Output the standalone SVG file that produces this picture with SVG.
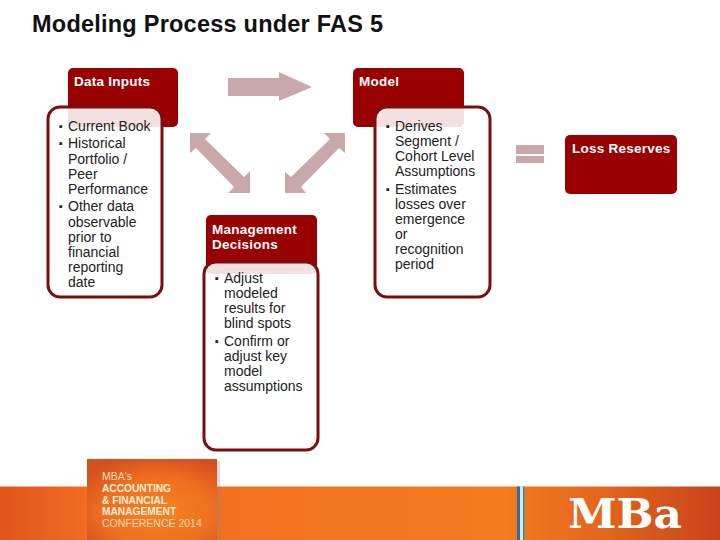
<svg xmlns="http://www.w3.org/2000/svg" width="720" height="540" viewBox="0 0 720 540">
<style>
text{font-family:"Liberation Sans",Arial,sans-serif}
.t{font-size:23.5px;font-weight:bold;fill:#111}
.h{font-size:13.5px;font-weight:bold;fill:#fff;letter-spacing:.25px}
.b{font-size:14px;fill:#222}
.u{font-size:11px}
.hd{fill:#990000}
.bd{fill:#fff;fill-opacity:.88;stroke:#7b0f10;stroke-width:3}
.ar{fill:#c9a8ab}
.c{font-size:10.5px;fill:#f8d9b8}
.cb{font-size:10.2px;font-weight:bold;fill:#fdeeda}
</style>
<defs>
<linearGradient id="band" x1="0" x2="1" y1="0" y2="0"><stop offset="0" stop-color="#e2551c"/><stop offset=".12" stop-color="#ef6c20"/><stop offset=".7" stop-color="#f47b20"/><stop offset=".85" stop-color="#e0641c"/><stop offset="1" stop-color="#c9431a"/></linearGradient>
<radialGradient id="card" cx=".55" cy=".65" r=".7"><stop offset="0" stop-color="#f58220"/><stop offset=".6" stop-color="#ee7020"/><stop offset="1" stop-color="#d5501f"/></radialGradient>
</defs>
<rect width="720" height="540" fill="#fff"/>
<text class="t" x="32" y="31.500" textLength="351">Modeling Process under FAS 5</text>
<g id="band-footer">
<rect y="486.500" width="720" height="53.500" fill="url(#band)"/>
<rect x="517" y="486.500" width="3" height="53.500" fill="#2f6f90"/>
<rect x="520" y="486.500" width="3" height="53.500" fill="#cfe8f2"/>
<rect x="523" y="486.500" width="1.500" height="53.500" fill="#3d87a6"/>
<rect x="217" y="461" width="3" height="79" fill="#888" opacity=".3"/>
<rect x="87" y="459" width="130" height="81" fill="url(#card)"/>
<text class="c" x="102" y="480">MBA's</text>
<text class="cb" x="102" y="492">ACCOUNTING</text>
<text class="cb" x="102" y="503.500">&amp; FINANCIAL</text>
<text class="cb" x="102" y="515">MANAGEMENT</text>
<text class="c" x="102" y="527">CONFERENCE 2014</text>
<text x="568" y="528" font-size="41" font-weight="bold" fill="#fff" textLength="114" lengthAdjust="spacingAndGlyphs" style="font-family:'DejaVu Serif',serif">MBa</text>
</g>
<g id="connectors">
<path class="ar" d="M228 78H279V72L312 87L279 101V96H228Z"/>
<path class="ar" d="M190 133H211L205 139L244 177L250 171V193H228L234 187L196 148L190 153Z"/>
<path class="ar" d="M345 133H324L330 139L291 177L285 172V193H306L301 187L339 148L345 153Z"/>
<rect class="ar" x="516" y="145" width="28" height="9"/>
<rect class="ar" x="516" y="156" width="28" height="7"/>
</g>
<g id="data-inputs">
<rect class="hd" x="68" y="68" width="110" height="59" rx="5"/>
<text class="h" x="74" y="86">Data Inputs</text>
<rect class="bd" x="48" y="107" width="114" height="190" rx="12"/>
<text class="b"><tspan class="u" x="59" y="130">▪</tspan><tspan x="68" y="131">Current Book</tspan><tspan class="u" x="59" y="147">▪</tspan><tspan x="68" y="148">Historical</tspan><tspan x="68" y="164">Portfolio /</tspan><tspan x="68" y="179">Peer</tspan><tspan x="68" y="194">Performance</tspan><tspan class="u" x="59" y="210">▪</tspan><tspan x="68" y="211">Other data</tspan><tspan x="68" y="227">observable</tspan><tspan x="68" y="242">prior to</tspan><tspan x="68" y="257">financial</tspan><tspan x="68" y="272">reporting</tspan><tspan x="68" y="287">date</tspan></text>
</g>
<g id="model">
<rect class="hd" x="353" y="68" width="111" height="59" rx="5"/>
<text class="h" x="359" y="86">Model</text>
<rect class="bd" x="375" y="107" width="115" height="190" rx="12"/>
<text class="b"><tspan class="u" x="386" y="130">▪</tspan><tspan x="395" y="131">Derives</tspan><tspan x="395" y="146">Segment /</tspan><tspan x="395" y="161">Cohort Level</tspan><tspan x="395" y="176">Assumptions</tspan><tspan class="u" x="386" y="193">▪</tspan><tspan x="395" y="194">Estimates</tspan><tspan x="395" y="209">losses over</tspan><tspan x="395" y="224">emergence</tspan><tspan x="395" y="239">or</tspan><tspan x="395" y="254">recognition</tspan><tspan x="395" y="269">period</tspan></text>
</g>
<g id="management-decisions">
<rect class="hd" x="206" y="215" width="111" height="59" rx="5"/>
<text class="h"><tspan x="212" y="234">Management</tspan><tspan x="212" y="249">Decisions</tspan></text>
<rect class="bd" x="204" y="262" width="114" height="188" rx="12"/>
<text class="b"><tspan class="u" x="215" y="282">▪</tspan><tspan x="224" y="283">Adjust</tspan><tspan x="224" y="298">modeled</tspan><tspan x="224" y="313">results for</tspan><tspan x="224" y="328">blind spots</tspan><tspan class="u" x="215" y="345">▪</tspan><tspan x="224" y="346">Confirm or</tspan><tspan x="224" y="361">adjust key</tspan><tspan x="224" y="376">model</tspan><tspan x="224" y="391">assumptions</tspan></text>
</g>
<g id="loss-reserves">
<rect class="hd" x="565" y="135" width="112" height="59" rx="5"/>
<text class="h" x="572" y="153">Loss Reserves</text>
</g>
</svg>
